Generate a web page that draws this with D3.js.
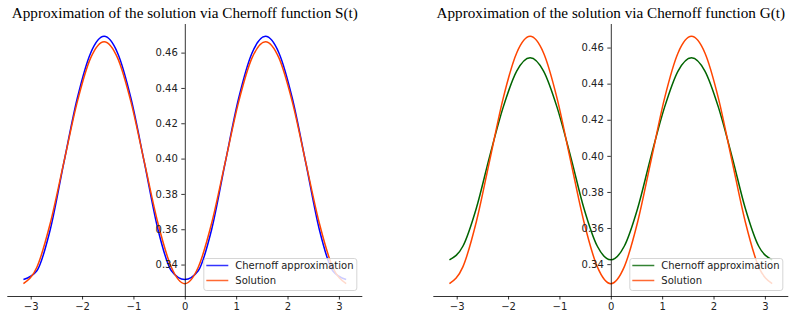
<!DOCTYPE html>
<html>
<head>
<meta charset="utf-8">
<script src="https://cdn.jsdelivr.net/npm/d3@7"></script>
<style>
    body { margin: 0; background: #fff; }
    svg { display: block; }
    .tick text { font-family: "DejaVu Sans", sans-serif; font-size: 10px; fill: #222; }
    .title { font-family: "Liberation Serif", "Times New Roman", serif; font-size: 15.2px; fill: #000; }
    .legend text { font-family: "DejaVu Sans", sans-serif; font-size: 10px; fill: #222; }
</style>
</head>
<body>
<div id="chart"></div>
<script>
// values
const xs = [-3.1416, -2.8798, -2.6180, -2.3562, -2.0944, -1.8326, -1.5708, -1.3090, -1.0472, -0.7854, -0.5236, -0.2618,
    0, 0.2618, 0.5236, 0.7854, 1.0472, 1.3090, 1.5708, 1.8326, 2.0944, 2.3562, 2.6180, 2.8798, 3.1416];

const solution = [0.3292, 0.3385, 0.3635, 0.3977, 0.4320, 0.4570, 0.4662, 0.4570, 0.4320, 0.3977, 0.3635, 0.3385,
    0.3292, 0.3385, 0.3635, 0.3977, 0.4320, 0.4570, 0.4662, 0.4570, 0.4320, 0.3977, 0.3635, 0.3385, 0.3292];

const chernoffS = [0.3315, 0.3365, 0.3600, 0.3975, 0.4340, 0.4598, 0.4692, 0.4598, 0.4340, 0.3975, 0.3600, 0.3365,
    0.3315, 0.3365, 0.3600, 0.3975, 0.4340, 0.4598, 0.4692, 0.4598, 0.4340, 0.3975, 0.3600, 0.3365, 0.3315];

const chernoffG = [0.3424, 0.3499, 0.3710, 0.4000, 0.4270, 0.4470, 0.4544, 0.4470, 0.4270, 0.4000, 0.3710, 0.3499,
    0.3424, 0.3499, 0.3710, 0.4000, 0.4270, 0.4470, 0.4544, 0.4470, 0.4270, 0.4000, 0.3710, 0.3499, 0.3424];

const xTicks = [-3, -2, -1, 0, 1, 2, 3];
const yTicks = [0.34, 0.36, 0.38, 0.40, 0.42, 0.44, 0.46];
const legendLabels = ["Chernoff approximation", "Solution"];

const panels = [
    { title: "Approximation of the solution via Chernoff function S(t)", approx: chernoffS, color: "#0000ff", left: 7.3 },
    { title: "Approximation of the solution via Chernoff function G(t)", approx: chernoffG, color: "#006400", left: 433.3 }
];

const W = 795, H = 320;
const plotW = 355, plotTop = 24, plotBottom = 296;

const svg = d3.select("#chart").append("svg")
    .attr("width", W)
    .attr("height", H);

function pad(ext, frac) {
    const d = (ext[1] - ext[0]) * frac;
    return [ext[0] - d, ext[1] + d];
}

panels.forEach(p => {
    const x = d3.scaleLinear()
        .domain(pad(d3.extent(xs), 0.05))
        .range([p.left, p.left + plotW]);
    const y = d3.scaleLinear()
        .domain(pad(d3.extent(solution.concat(p.approx)), 0.05))
        .range([plotBottom, plotTop]);

    const g = svg.append("g");

    const line = d3.line()
        .x((d, i) => x(xs[i]))
        .y(d => y(d))
        .curve(d3.curveMonotoneX);

    const series = [
        { values: p.approx, color: p.color },
        { values: solution, color: "#ff4500" }
    ];

    g.selectAll(".series")
        .data(series)
        .enter().append("path")
        .attr("class", "series")
        .attr("d", d => line(d.values))
        .attr("fill", "none")
        .attr("stroke", d => d.color)
        .attr("stroke-width", 1.5);

    // bottom axis
    const xAxis = g.append("g")
        .attr("transform", "translate(0," + plotBottom + ")")
        .call(d3.axisBottom(x).tickValues(xTicks).tickSize(3.5).tickPadding(3.5).tickFormat(d3.format("d")));
    xAxis.select(".domain").attr("stroke-width", 0.8).attr("d", "M" + p.left + ",0.5H" + (p.left + plotW));
    xAxis.selectAll(".tick line").attr("stroke-width", 0.8);

    // left spine sits at x = 0
    const yAxis = g.append("g")
        .attr("transform", "translate(" + x(0) + ",0)")
        .call(d3.axisLeft(y).tickValues(yTicks).tickSize(3.5).tickPadding(3.5).tickFormat(d3.format(".2f")));
    yAxis.select(".domain").attr("stroke-width", 0.8).attr("d", "M0.5," + plotTop + "V" + plotBottom);
    yAxis.selectAll(".tick line").attr("stroke-width", 0.8);

    g.append("text")
        .attr("class", "title")
        .attr("x", p.left + plotW / 2)
        .attr("y", 18)
        .attr("text-anchor", "middle")
        .text(p.title);

    // legend, lower right
    const lg = g.append("g")
        .attr("class", "legend")
        .attr("transform", "translate(" + (p.left + plotW - 5 - 154) + "," + (plotBottom - 5 - 33) + ")");
    lg.append("rect")
        .attr("x", 0.5).attr("y", 0.5)
        .attr("width", 153).attr("height", 32)
        .attr("rx", 2.5)
        .attr("fill", "#fff")
        .attr("fill-opacity", 0.8)
        .attr("stroke", "#cccccc")
        .attr("stroke-width", 0.8);

    const items = lg.selectAll(".item")
        .data(series.map((s, i) => ({ color: s.color, label: legendLabels[i] })))
        .enter().append("g")
        .attr("class", "item")
        .attr("transform", (d, i) => "translate(0," + (7.5 + i * 15) + ")");
    items.append("line")
        .attr("x1", 3).attr("x2", 25)
        .attr("y1", 0).attr("y2", 0)
        .attr("stroke", d => d.color)
        .attr("stroke-opacity", 0.8)
        .attr("stroke-width", 1.5);
    items.append("text")
        .attr("x", 32)
        .attr("y", 3.6)
        .text(d => d.label);
});
</script>
</body>
</html>
